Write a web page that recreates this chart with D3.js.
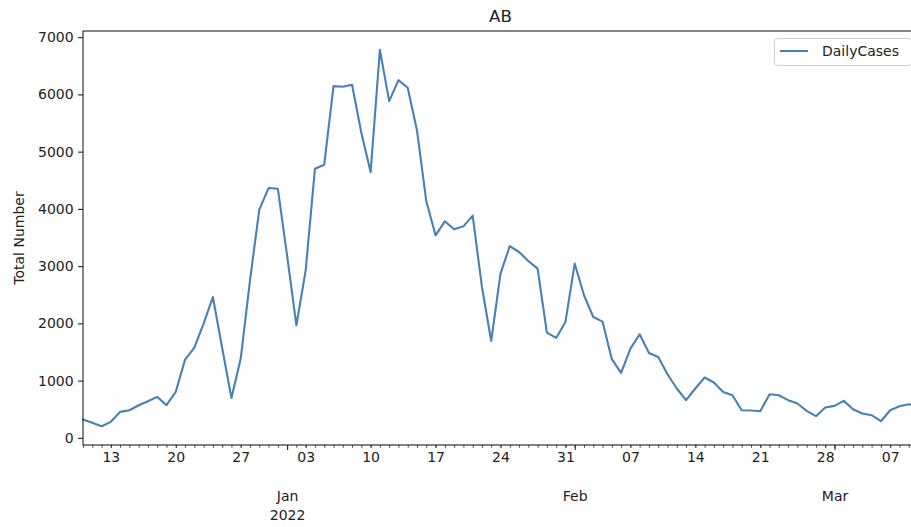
<!DOCTYPE html>
<html>
<head>
<meta charset="utf-8">
<script src="https://cdn.jsdelivr.net/npm/d3@7"></script>
<style>
  html, body { margin: 0; padding: 0; background: #fff; overflow: hidden; }
  svg { display: block; font-family: "DejaVu Sans", sans-serif; }
</style>
</head>
<body>
<svg id="chart" width="911" height="527"></svg>
<script>
// Daily reported cases for AB, 2021-12-10 through 2022-03-10
const decDates = ["2021-12-10","2021-12-11","2021-12-12","2021-12-13","2021-12-14","2021-12-15","2021-12-16","2021-12-17","2021-12-18","2021-12-19","2021-12-20","2021-12-21","2021-12-22","2021-12-23","2021-12-24","2021-12-25","2021-12-26","2021-12-27","2021-12-28","2021-12-29","2021-12-30","2021-12-31"];
const janDates = ["2022-01-01","2022-01-02","2022-01-03","2022-01-04","2022-01-05","2022-01-06","2022-01-07","2022-01-08","2022-01-09","2022-01-10","2022-01-11","2022-01-12","2022-01-13","2022-01-14","2022-01-15","2022-01-16","2022-01-17","2022-01-18","2022-01-19","2022-01-20","2022-01-21","2022-01-22","2022-01-23","2022-01-24","2022-01-25","2022-01-26","2022-01-27","2022-01-28","2022-01-29","2022-01-30","2022-01-31"];
const febDates = ["2022-02-01","2022-02-02","2022-02-03","2022-02-04","2022-02-05","2022-02-06","2022-02-07","2022-02-08","2022-02-09","2022-02-10","2022-02-11","2022-02-12","2022-02-13","2022-02-14","2022-02-15","2022-02-16","2022-02-17","2022-02-18","2022-02-19","2022-02-20","2022-02-21","2022-02-22","2022-02-23","2022-02-24","2022-02-25","2022-02-26","2022-02-27","2022-02-28"];
const marDates = ["2022-03-01","2022-03-02","2022-03-03","2022-03-04","2022-03-05","2022-03-06","2022-03-07","2022-03-08","2022-03-09","2022-03-10"];

const decCases = [320, 262, 204, 280, 454, 483, 570, 640, 716, 571, 803, 1368, 1578, 1997, 2461, 1570, 698, 1386, 2753, 3987, 4364, 4353];
const janCases = [3183, 1967, 2927, 4702, 4772, 6144, 6133, 6168, 5330, 4643, 6779, 5883, 6249, 6116, 5371, 4137, 3538, 3783, 3643, 3695, 3882, 2636, 1693, 2870, 3351, 3247, 3090, 2957, 1840, 1746, 2025];
const febCases = [3044, 2491, 2112, 2030, 1375, 1135, 1560, 1810, 1484, 1414, 1112, 862, 658, 862, 1054, 967, 803, 745, 483, 478, 466, 763, 745, 658, 600, 471, 379, 530];
const marCases = [559, 646, 501, 426, 396, 291, 483, 553, 588, 540];

// Axis tick values and labels
const yTicks = [0, 1000, 2000, 3000, 4000, 5000, 6000, 7000];
const weekTickDates = ["2021-12-13","2021-12-20","2021-12-27","2022-01-03","2022-01-10","2022-01-17","2022-01-24","2022-01-31","2022-02-07","2022-02-14","2022-02-21","2022-02-28","2022-03-07"];
const weekTickLabels = ["13","20","27","03","10","17","24","31","07","14","21","28","07"];
const monthTickDates = ["2022-01-01","2022-02-01","2022-03-01"];
const monthTickLabels = [["Jan","2022"],["Feb"],["Mar"]];

const title = "AB";
const yLabel = "Total Number";
const seriesName = "DailyCases";

const parse = d3.utcParse("%Y-%m-%d");
const dates = [...decDates, ...janDates, ...febDates, ...marDates].map(parse);
const cases = [...decCases, ...janCases, ...febCases, ...marCases];
const data = dates.map((d, i) => ({ date: d, value: cases[i] }));

const svg = d3.select("#chart");
const plot = { left: 83, right: 918, top: 31, bottom: 445 };
const lineColor = "#4682b4";
const textColor = "#222";
const fontSize = 14;

const x = d3.scaleUtc()
  .domain(d3.extent(dates))
  .range([plot.left, plot.right]);

const [vmin, vmax] = d3.extent(cases);
const pad = (vmax - vmin) * 0.05;
const y = d3.scaleLinear()
  .domain([vmin - pad, vmax + pad])
  .range([plot.bottom, plot.top]);

// Line
const line = d3.line().x(d => x(d.date)).y(d => y(d.value));
svg.append("path")
  .datum(data)
  .attr("d", line)
  .attr("fill", "none")
  .attr("stroke", lineColor)
  .attr("stroke-width", 2.1)
  .attr("stroke-linejoin", "round")
  .attr("stroke-linecap", "square");

// Frame
svg.append("rect")
  .attr("x", plot.left).attr("y", plot.top)
  .attr("width", plot.right - plot.left).attr("height", plot.bottom - plot.top)
  .attr("fill", "none").attr("stroke", "#222").attr("stroke-width", 1.1);

// Y axis
const yAxis = d3.axisLeft(y).tickValues(yTicks).tickSize(4.9).tickPadding(4.5).tickFormat(d3.format("d"));
const gy = svg.append("g").attr("transform", `translate(${plot.left},0)`).call(yAxis);
gy.select(".domain").remove();
gy.selectAll(".tick line").attr("stroke", "#222").attr("stroke-width", 1.1);
gy.selectAll(".tick text").attr("fill", textColor).style("font-size", fontSize + "px")
  .style("font-family", "DejaVu Sans");

// X axis: daily minor ticks
const gDays = svg.append("g").attr("transform", `translate(0,${plot.bottom})`)
  .call(d3.axisBottom(x).tickValues(dates).tickSize(2.8).tickFormat(""));
gDays.select(".domain").remove();
gDays.selectAll(".tick line").attr("stroke", "#222").attr("stroke-width", 0.8);

// X axis: weekly labels
const gWeeks = svg.append("g").attr("transform", `translate(0,${plot.bottom})`)
  .call(d3.axisBottom(x).tickValues(weekTickDates.map(parse)).tickSize(2.8).tickPadding(4.5)
    .tickFormat((d, i) => weekTickLabels[i]));
gWeeks.select(".domain").remove();
gWeeks.selectAll(".tick line").attr("stroke", "#222").attr("stroke-width", 0.8);
gWeeks.selectAll(".tick text").attr("fill", textColor).style("font-size", fontSize + "px")
  .style("font-family", "DejaVu Sans");

// X axis: month ticks with two-line labels
const gMonths = svg.append("g").attr("transform", `translate(0,${plot.bottom})`)
  .call(d3.axisBottom(x).tickValues(monthTickDates.map(parse)).tickSize(4.9).tickFormat(""));
gMonths.select(".domain").remove();
gMonths.selectAll(".tick line").attr("stroke", "#222").attr("stroke-width", 1.1);
gMonths.selectAll(".tick").each(function (d, i) {
  const t = d3.select(this).append("text")
    .attr("fill", textColor)
    .attr("text-anchor", "middle")
    .style("font-size", fontSize + "px")
    .style("font-family", "DejaVu Sans");
  monthTickLabels[i].forEach((s, k) => {
    t.append("tspan").attr("x", 0).attr("y", 56 + k * 18.5).text(s);
  });
});

// Title
svg.append("text")
  .attr("x", (plot.left + plot.right) / 2).attr("y", 22)
  .attr("text-anchor", "middle")
  .attr("fill", textColor)
  .style("font-size", "16.7px")
  .text(title);

// Y label
svg.append("text")
  .attr("transform", `translate(24,${(plot.top + plot.bottom) / 2}) rotate(-90)`)
  .attr("text-anchor", "middle")
  .attr("fill", textColor)
  .style("font-size", fontSize + "px")
  .text(yLabel);

// Legend
const lg = svg.append("g");
lg.append("rect")
  .attr("x", 774.5).attr("y", 38.5).attr("width", 137).attr("height", 27)
  .attr("rx", 3).attr("fill", "#fff").attr("fill-opacity", 0.8)
  .attr("stroke", "#d0d0d0").attr("stroke-width", 1);
lg.append("line")
  .attr("x1", 780).attr("x2", 808).attr("y1", 51).attr("y2", 51)
  .attr("stroke", lineColor).attr("stroke-width", 2.1);
lg.append("text")
  .attr("x", 822).attr("y", 56)
  .attr("fill", textColor)
  .style("font-size", fontSize + "px")
  .text(seriesName);
</script>
</body>
</html>
